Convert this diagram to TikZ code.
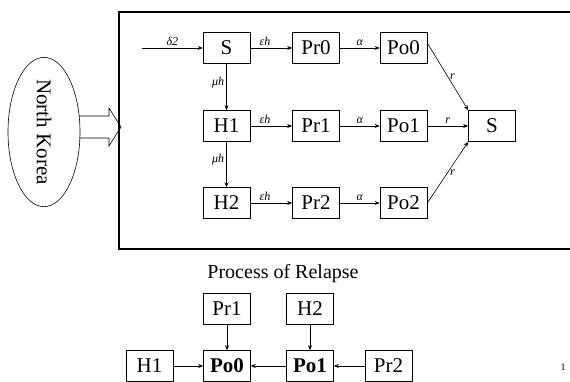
\documentclass[tikz,border=0pt]{standalone}
\usepackage{fontspec}
\setmainfont{Liberation Serif}
\usetikzlibrary{shapes.geometric,arrows.meta}
\tikzset{
  box/.style={draw, line width=0.6pt, minimum width=47pt, minimum height=31pt, inner sep=0pt, font=\fontsize{21}{22}\selectfont},
  conn/.style={line width=0.6pt, -{Stealth[length=5pt,width=4pt]}},
  lbl/.style={font=\fontsize{12}{13}\selectfont\itshape, inner sep=2pt},
}
\begin{document}
\begin{tikzpicture}[x=1pt,y=-1pt]
\useasboundingbox (0,0) rectangle (570,381);
% outer frame
\draw[line width=1.4pt] (572,12) -- (119,12) -- (119,249) -- (572,249);
% North Korea ellipse
\node[draw, ellipse, line width=0.6pt, rotate=-90, minimum width=140pt, minimum height=72pt, inner sep=0pt, font=\fontsize{21}{22}\selectfont] (NK) at (44,132) {North Korea};
% hollow arrow
\draw[line width=0.6pt] (79,116) -- (109,116) -- (109,108) -- (121,127) -- (109,146) -- (109,138) -- (79,138);
% top nodes
\node[box] (S) at (226.5,48) {S};
\node[box] (Pr0) at (316,48) {Pr0};
\node[box] (Po0) at (403.5,48) {Po0};
\node[box] (H1) at (226.5,126) {H1};
\node[box] (Pr1) at (316,126) {Pr1};
\node[box] (Po1) at (403.5,126) {Po1};
\node[box] (Sr) at (492,126) {S};
\node[box] (H2) at (226.5,203) {H2};
\node[box] (Pr2) at (316,203) {Pr2};
\node[box] (Po2) at (403.5,203) {Po2};
\coordinate (in) at (142,48);
% connectors
\draw[conn] (in) -- node[lbl,above,pos=0.5]{δ2} (S);
\draw[conn] (S) -- node[lbl,above,pos=0.35]{εh} (Pr0);
\draw[conn] (H1) -- node[lbl,above,pos=0.35]{εh} (Pr1);
\draw[conn] (H2) -- node[lbl,above,pos=0.35]{εh} (Pr2);
\draw[conn] (S) -- node[lbl,left,pos=0.4]{μh} (H1);
\draw[conn] (H1) -- node[lbl,left,pos=0.4]{μh} (H2);
\draw[conn] (Pr0) -- node[lbl,above]{α} (Po0);
\draw[conn] (Pr1) -- node[lbl,above]{α} (Po1);
\draw[conn] (Pr2) -- node[lbl,above]{α} (Po2);
\draw[conn] ([yshift=5pt]Po0.east) -- node[lbl,right,pos=0.5]{r} (Sr.north west);
\draw[conn] (Po1) -- node[lbl,above]{r} (Sr);
\draw[conn] (Po2.east) -- node[lbl,right,pos=0.5]{r} (Sr.south west);
% bottom
\node[font=\fontsize{20}{22}\selectfont] (title) at (283,274) {Process of Relapse};
\node[box] (bPr1) at (227,309) {Pr1};
\node[box] (bH2) at (310,309) {H2};
\node[box] (bH1) at (149.5,366) {H1};
\node[box,font=\fontsize{21}{22}\selectfont\bfseries] (bPo0) at (227,366) {Po0};
\node[box,font=\fontsize{21}{22}\selectfont\bfseries] (bPo1) at (310,366) {Po1};
\node[box] (bPr2) at (388.5,366) {Pr2};
\draw[conn] (bPr1) -- (bPo0);
\draw[conn] (bH2) -- (bPo1);
\draw[conn] (bH1) -- (bPo0);
\draw[conn] (bPo1) -- (bPo0);
\draw[conn] (bPr2) -- (bPo1);
\node[font=\fontsize{10}{11}\selectfont] (pg) at (563,367) {1};
\end{tikzpicture}
\end{document}
